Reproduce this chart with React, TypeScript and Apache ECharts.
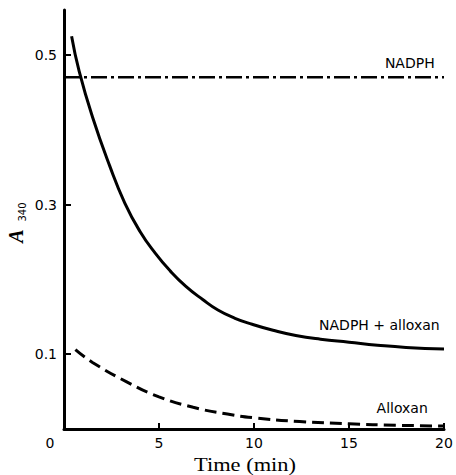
import React, { useEffect, useRef } from "react";
import * as echarts from "echarts";

const timeNadph = [0, 20];
const valNadph = [0.47, 0.47];

const timeMix = [0.4, 0.8, 1.5, 2.4, 3.2, 4.0, 4.8, 5.6, 6.4, 7.3, 8.1, 9, 9.9, 11, 12.2, 13.5, 15, 16.5, 18, 20];
const valMix = [0.525, 0.478, 0.417, 0.352, 0.302, 0.264, 0.235, 0.211, 0.191, 0.173, 0.159, 0.148, 0.14, 0.132, 0.125, 0.12, 0.116, 0.112, 0.109, 0.107];

const timeAllox = [0.6, 1.5, 3.3, 5, 6.8, 8.6, 10, 12.4, 15, 17.5, 20];
const valAllox = [0.106, 0.089, 0.063, 0.043, 0.029, 0.02, 0.015, 0.01, 0.007, 0.005, 0.004];

const yTicks = [0.1, 0.3, 0.5];
const xTicks = [5, 10, 15, 20];

const seriesLabels = ["NADPH", "NADPH + alloxan", "Alloxan"];
const labelCoords: [number, number][] = [
  [18.2, 0.489],
  [16.6, 0.139],
  [17.8, 0.028],
];

const pair = (xs: number[], ys: number[]) => xs.map((x, i) => [x, ys[i]]);

const sans = "DejaVu Sans";

function mark(i: number) {
  return {
    silent: true,
    symbol: "circle",
    symbolSize: 1,
    itemStyle: { color: "rgba(0,0,0,0)" },
    label: {
      show: true,
      position: "inside",
      formatter: seriesLabels[i],
      color: "#000",
      fontFamily: sans,
      fontSize: 14,
    },
    data: [{ coord: labelCoords[i] }],
  };
}

export default function App() {
  const ref = useRef<HTMLDivElement>(null);
  useEffect(() => {
    if (!ref.current) return;
    const chart = echarts.init(ref.current, undefined, { renderer: "svg" });
    chart.setOption({
      animation: false,
      backgroundColor: "#fff",
      grid: { left: 64, right: 12, top: 10, bottom: 46 },
      xAxis: {
        type: "value",
        min: 0,
        max: 20,
        interval: 5,
        splitLine: { show: false },
        axisLine: { show: true, lineStyle: { color: "#000", width: 3 } },
        axisTick: { show: true, inside: true, length: 6, lineStyle: { color: "#000", width: 2 }, customValues: xTicks },
        axisLabel: { color: "#000", fontFamily: sans, fontSize: 14, margin: 7, customValues: xTicks },
      },
      yAxis: {
        type: "value",
        min: 0,
        max: 0.56,
        splitLine: { show: false },
        axisLine: { show: true, onZero: false, lineStyle: { color: "#000", width: 3 } },
        axisTick: { show: true, inside: true, length: 7, lineStyle: { color: "#000", width: 2 }, customValues: yTicks },
        axisLabel: { color: "#000", fontFamily: sans, fontSize: 14, margin: 7, customValues: yTicks },
      },
      graphic: [
        { type: "text", x: 50, y: 443, style: { text: "0", fill: "#000", font: `14px "${sans}"`, align: "center", verticalAlign: "middle" } },
        { type: "text", x: 245, y: 464, scaleX: 1.18, style: { text: "Time (min)", fill: "#000", font: `19px "Liberation Serif"`, align: "center", verticalAlign: "middle" } },
        { type: "text", x: 16, y: 236, rotation: Math.PI / 2, style: { text: "A", fill: "#000", font: `italic bold 20px "Liberation Serif"`, align: "center", verticalAlign: "middle" } },
        { type: "text", x: 22, y: 212, rotation: Math.PI / 2, style: { text: "340", fill: "#000", font: `10px "${sans}"`, align: "center", verticalAlign: "middle" } },
      ],
      series: [
        {
          type: "line",
          data: pair(timeNadph, valNadph),
          showSymbol: false,
          lineStyle: { color: "#000", width: 2.5, type: [16, 4, 3, 4] },
          markPoint: mark(0),
        },
        {
          type: "line",
          data: pair(timeMix, valMix),
          smooth: 0.5,
          showSymbol: false,
          lineStyle: { color: "#000", width: 3 },
          markPoint: mark(1),
        },
        {
          type: "line",
          data: pair(timeAllox, valAllox),
          smooth: 0.5,
          showSymbol: false,
          lineStyle: { color: "#000", width: 3, type: [12, 6] },
          markPoint: mark(2),
        },
      ],
    });
    return () => chart.dispose();
  }, []);
  return <div ref={ref} style={{ width: 456, height: 475, position: "absolute", left: 0, top: 0 }} />;
}
